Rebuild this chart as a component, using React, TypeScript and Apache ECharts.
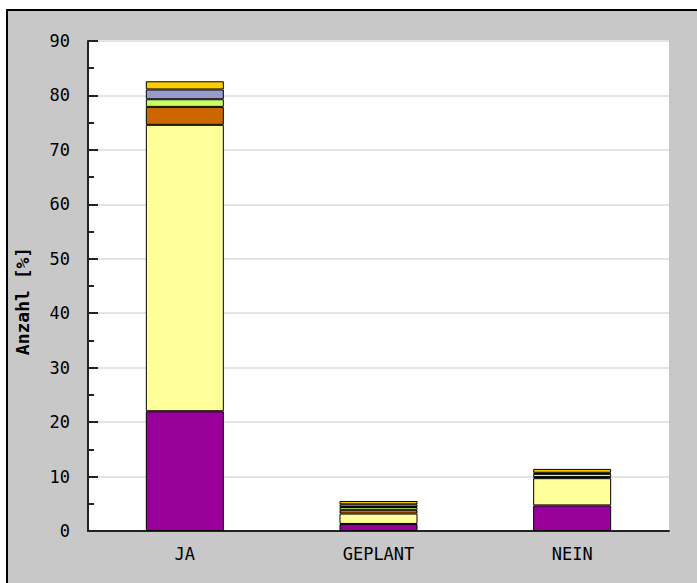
import React, { useEffect, useRef } from "react";
import * as echarts from "echarts";

const categories = ["JA", "GEPLANT", "NEIN"];
const seriesPurple = [22.0, 1.3, 4.7];
const seriesYellow = [52.6, 1.9, 5.0];
const seriesOrange = [3.3, 0.7, 0.2];
const seriesGreen = [1.4, 0.5, 0.6];
const seriesLavender = [1.8, 0.5, 0.2];
const seriesGold = [1.5, 0.6, 0.7];
const colors = ["#990099", "#ffff99", "#cc6600", "#ccff66", "#9999cc", "#ffcc00"];
const yTicks = [0, 90, 10];
const axisTitle = "Anzahl [%]";

export default function App() {
  const ref = useRef<HTMLDivElement>(null);
  useEffect(() => {
    if (!ref.current) return;
    const chart = echarts.init(ref.current, undefined, { renderer: "svg" });
    const font = "'DejaVu Sans Mono', monospace";
    const data = [seriesPurple, seriesYellow, seriesOrange, seriesGreen, seriesLavender, seriesGold];
    chart.setOption({
      animation: false,
      backgroundColor: "#ffffff",
      graphic: [
        {
          type: "rect",
          z: -10,
          shape: { x: 7, y: 10, width: 720, height: 600 },
          style: { fill: "#c8c8c8", stroke: "#000", lineWidth: 2 },
        },
        {
          type: "text",
          x: 22,
          y: 301,
          rotation: Math.PI / 2,
          style: {
            text: axisTitle,
            font: `bold 18px ${font}`,
            fill: "#000",
            align: "center",
            verticalAlign: "middle",
          },
        },
      ],
      grid: {
        left: 88,
        top: 41,
        right: 28,
        bottom: 52,
        show: true,
        backgroundColor: "#ffffff",
        borderWidth: 0,
      },
      xAxis: {
        type: "category",
        data: categories,
        boundaryGap: true,
        axisLine: { lineStyle: { color: "#222", width: 2 } },
        axisTick: { inside: true, length: 10, lineStyle: { color: "#222", width: 2 } },
        axisLabel: { color: "#000", fontFamily: font, fontSize: 17, margin: 14 },
        splitLine: { show: false },
      },
      yAxis: {
        type: "value",
        min: yTicks[0],
        max: yTicks[1],
        interval: yTicks[2],
        axisLine: { show: true, lineStyle: { color: "#222", width: 2 } },
        axisTick: { show: true, inside: true, length: 10, lineStyle: { color: "#222", width: 2 } },
        minorTick: { show: true, splitNumber: 2, length: 6, lineStyle: { color: "#222", width: 2 } },
        axisLabel: { color: "#000", fontFamily: font, fontSize: 17, margin: 18 },
        splitLine: { show: true, lineStyle: { color: "#e4e4e4", width: 2 } },
      },
      series: data.map((d, i) => ({
        type: "bar",
        stack: "total",
        data: d,
        barWidth: 78,
        itemStyle: { color: colors[i], borderColor: "#000", borderWidth: 1 },
      })),
    });
    return () => chart.dispose();
  }, []);
  return (
    <div
      ref={ref}
      style={{ position: "absolute", left: 0, top: 0, width: 697, height: 583 }}
    />
  );
}
